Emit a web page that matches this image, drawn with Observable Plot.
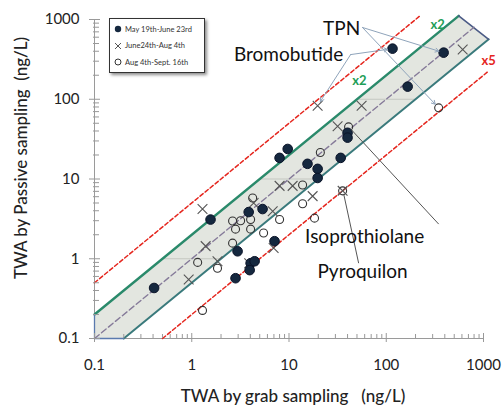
<!DOCTYPE html>
<html><head><meta charset="utf-8">
<script src="https://cdn.jsdelivr.net/npm/d3@7"></script>
<script src="https://cdn.jsdelivr.net/npm/@observablehq/plot@0.6"></script>
<style>
body{margin:0;background:#fff;font-family:Lato,"Open Sans",sans-serif;}
#wrap{position:relative;width:504px;height:411px;}
#legend{position:absolute;left:109px;top:18px;width:96px;height:55px;border:1px solid #333;background:#fff;box-shadow:2px 2px 3px rgba(0,0,0,.45);font-size:7.5px;color:#333;box-sizing:border-box;padding:2px 0 0 4px;}
.item{display:flex;align-items:center;height:16.5px;white-space:nowrap;}
.item svg{margin-right:3px;flex:none;}
</style></head><body><div id="wrap"><div id="legend"></div></div>
<script>
// ---- data ----
const periods = ["May 19th-June 23rd", "June24th-Aug 4th", "Aug 4th-Sept. 16th"];
const grabMay    = [0.41, 1.56, 8.0, 9.7, 3.85, 5.35, 7.1, 2.96, 4.03, 4.43, 3.94, 2.82, 15.5, 19.7, 19.7, 34, 40, 40, 116, 389, 166];
const passiveMay = [0.43, 3.1, 18.4, 23.8, 3.85, 4.2, 1.66, 1.24, 0.88, 0.93, 0.72, 0.57, 15.5, 13.4, 10.3, 18.4, 38, 33, 431, 384, 144];
const grabJune    = [1.29, 1.39, 1.84, 0.93, 4.33, 6.8, 6.95, 8.0, 10.9, 17.5, 19.7, 31.6, 35.6, 55.8, 611, 3.9];
const passiveJune = [4.2, 1.44, 0.93, 0.55, 5.0, 3.95, 1.36, 8.2, 8.2, 6.1, 83, 46, 7.1, 83, 420, 0.88];
const grabAug    = [2.63, 3.18, 2.82, 4.03, 4.03, 8.0, 5.48, 2.63, 1.15, 1.84, 1.29, 13.8, 18.3, 4.23, 13.8, 21, 41, 35.6, 346];
const passiveAug = [2.97, 3.0, 2.35, 3.1, 2.35, 3.1, 2.1, 1.57, 0.9, 0.76, 0.225, 4.9, 3.23, 5.77, 8.4, 21.5, 45, 7.1, 78];

// agreement band (x2) corners and guide lines
const bandX = [0.1, 0.1, 556, 1130, 0.2, 0.1];
const bandY = [0.1, 0.2, 1112, 565, 0.1, 0.1];
const upperX2 = [[0.1, 0.2], [556, 1112]];
const lowerX2 = [[0.2, 0.1], [1130, 565]];
const capX2 = [[556, 1112], [1130, 565]];
const cornerX2 = [[0.1, 0.2], [0.1, 0.1], [0.2, 0.1]];
const upperX5 = [[0.1, 0.5], [226, 1130]];
const lowerX5 = [[0.5, 0.1], [1100, 220]];
const diag = [[0.1, 0.1], [800, 800]];
const gridVals = [1, 10, 100];

const decades = [0.1, 1, 10, 100, 1000];
const decadeLabels = ["0.1", "1", "10", "100", "1000"];
const minor = decades.slice(0, -1).flatMap(d => [2, 3, 4, 5, 6, 7, 8, 9].map(k => k * d));

const compounds = ["TPN", "Bromobutide", "Isoprothiolane", "Pyroquilon"];
const compoundX = [34.8, 9.9, 60, 57];
const compoundY = [771, 363, 1.86, 0.676];
const compoundAnchor = ["middle", "middle", "start", "start"];
// pointers: [fromX, fromY, toX, toY]
const arrowsBlue = [[57, 794, 389, 384], [57, 794, 346, 78], [43, 363, 116, 431], [43, 363, 19.7, 83]];
const linksGray = [[346, 2.72, 43, 42.5], [52, 0.88, 36.5, 6.5]];
const factorLabels = ["x2", "x2", "x5"];
const factorX = [338, 53, 1130];
const factorY = [865, 171, 305];

// ---- build ----
const zip = (xs, ys) => xs.map((x, i) => ({x, y: ys[i]}));
const may = zip(grabMay, passiveMay), june = zip(grabJune, passiveJune), aug = zip(grabAug, passiveAug);
const band = zip(bandX, bandY);
const P = d => d[0], Q = d => d[1];
const lineOpts = (stroke, w, dash) => ({x: P, y: Q, stroke, strokeWidth: w, strokeDasharray: dash});
const font = "Lato, 'Open Sans', sans-serif";
const lab = d => decadeLabels[decades.indexOf(d)];

const chart = Plot.plot({
  width: 504, height: 411,
  marginLeft: 94, marginRight: 21, marginTop: 19, marginBottom: 73,
  style: {fontFamily: font, background: "white", overflow: "visible"},
  x: {type: "log", domain: [0.1, 1000]},
  y: {type: "log", domain: [0.1, 1000]},
  marks: [
    Plot.line(band, {x: "x", y: "y", fill: "#e3e6e0", stroke: "none"}),
    Plot.ruleY(gridVals, {y: d => d, x1: d => d / 2, x2: d => d * 2, stroke: "#c4c7c1", strokeWidth: 1}),
    Plot.ruleX([0.1], {stroke: "#9a9a9a", strokeWidth: 1}),
    Plot.ruleY([0.1], {stroke: "#9a9a9a", strokeWidth: 1}),
    Plot.line(upperX2, lineOpts("#2a8a6b", 2.4)),
    Plot.line(lowerX2, lineOpts("#3a7a7c", 2)),
    Plot.line(capX2, lineOpts("#4b5b86", 1.6)),
    Plot.line(cornerX2, lineOpts("#5a7aae", 1.3)),
    Plot.line(upperX5, lineOpts("#e5261e", 1.5, "4,2.5")),
    Plot.line(lowerX5, lineOpts("#e5261e", 1.5, "4,2.5")),
    Plot.line(diag, lineOpts("#857a99", 1.4, "6,3")),
    Plot.dot(aug, {x: "x", y: "y", r: 4, stroke: "#333", strokeWidth: 1.1, fill: "none"}),
    Plot.dot(june, {x: "x", y: "y", r: 4.5, symbol: "times", stroke: "#555", strokeWidth: 1.1}),
    Plot.dot(may, {x: "x", y: "y", r: 4.8, fill: "#15283f", stroke: "#0a1328", strokeWidth: 1}),
    Plot.arrow(arrowsBlue, {x1: d => d[0], y1: d => d[1], x2: d => d[2], y2: d => d[3], stroke: "#8fa4bb", strokeWidth: 1, headLength: 6, insetEnd: 5}),
    Plot.link(linksGray, {x1: d => d[0], y1: d => d[1], x2: d => d[2], y2: d => d[3], stroke: "#555", strokeWidth: 1}),
    Plot.text(compounds, {x: (d, i) => compoundX[i], y: (d, i) => compoundY[i], text: d => d, textAnchor: (d, i) => compoundAnchor[i], fontSize: 19, fill: "#111"}),
    Plot.text(factorLabels, {x: (d, i) => factorX[i], y: (d, i) => factorY[i], text: d => d, textAnchor: (d, i) => i === 2 ? "start" : "middle", fontSize: 13, fontWeight: "bold", fill: (d, i) => i === 2 ? "#e5261e" : "#1f9e58"}),
    // axes
    Plot.axisY(decades, {tickSize: 0, tickPadding: 15, tickFormat: lab, fontSize: 15, fill: "#222", label: null}),
    Plot.axisY(decades, {tickSize: 11, dx: 6, tickFormat: () => "", stroke: "#999", label: null}),
    Plot.axisY(minor, {tickSize: 6, dx: 5, tickFormat: () => "", stroke: "#999", label: null}),
    Plot.axisX(decades, {tickSize: 0, tickPadding: 21, tickFormat: lab, fontSize: 15, fill: "#222", label: null}),
    Plot.axisX(decades, {tickSize: 9, dy: -5, tickFormat: () => "", stroke: "#999", label: null}),
    Plot.axisX(minor, {tickSize: 4, dy: -4, tickFormat: () => "", stroke: "#999", label: null}),
    Plot.text(["TWA by grab sampling\u00a0\u00a0\u00a0(ng/L)"], {frameAnchor: "bottom", textAnchor: "middle", dy: 63, dx: 4, fontSize: 17, fontWeight: 500, fill: "#222"}),
    Plot.text(["TWA by Passive sampling\u00a0\u00a0(ng/L)"], {frameAnchor: "left", textAnchor: "middle", rotate: -90, dx: -73, dy: -21, fontSize: 17, fontWeight: 500, fill: "#222"})
  ]
});
document.getElementById("wrap").prepend(chart);

// legend
const symbols = [
  '<svg width="8" height="8"><circle cx="4" cy="4" r="3.2" fill="#15283f"/></svg>',
  '<svg width="8" height="8"><path d="M1,1L7,7M7,1L1,7" stroke="#555" stroke-width="1"/></svg>',
  '<svg width="8" height="8"><circle cx="4" cy="4" r="3" fill="none" stroke="#333" stroke-width="1"/></svg>'
];
document.getElementById("legend").innerHTML = periods.map((p, i) => `<div class="item">${symbols[i]}<span>${p}</span></div>`).join("");
</script></body></html>
